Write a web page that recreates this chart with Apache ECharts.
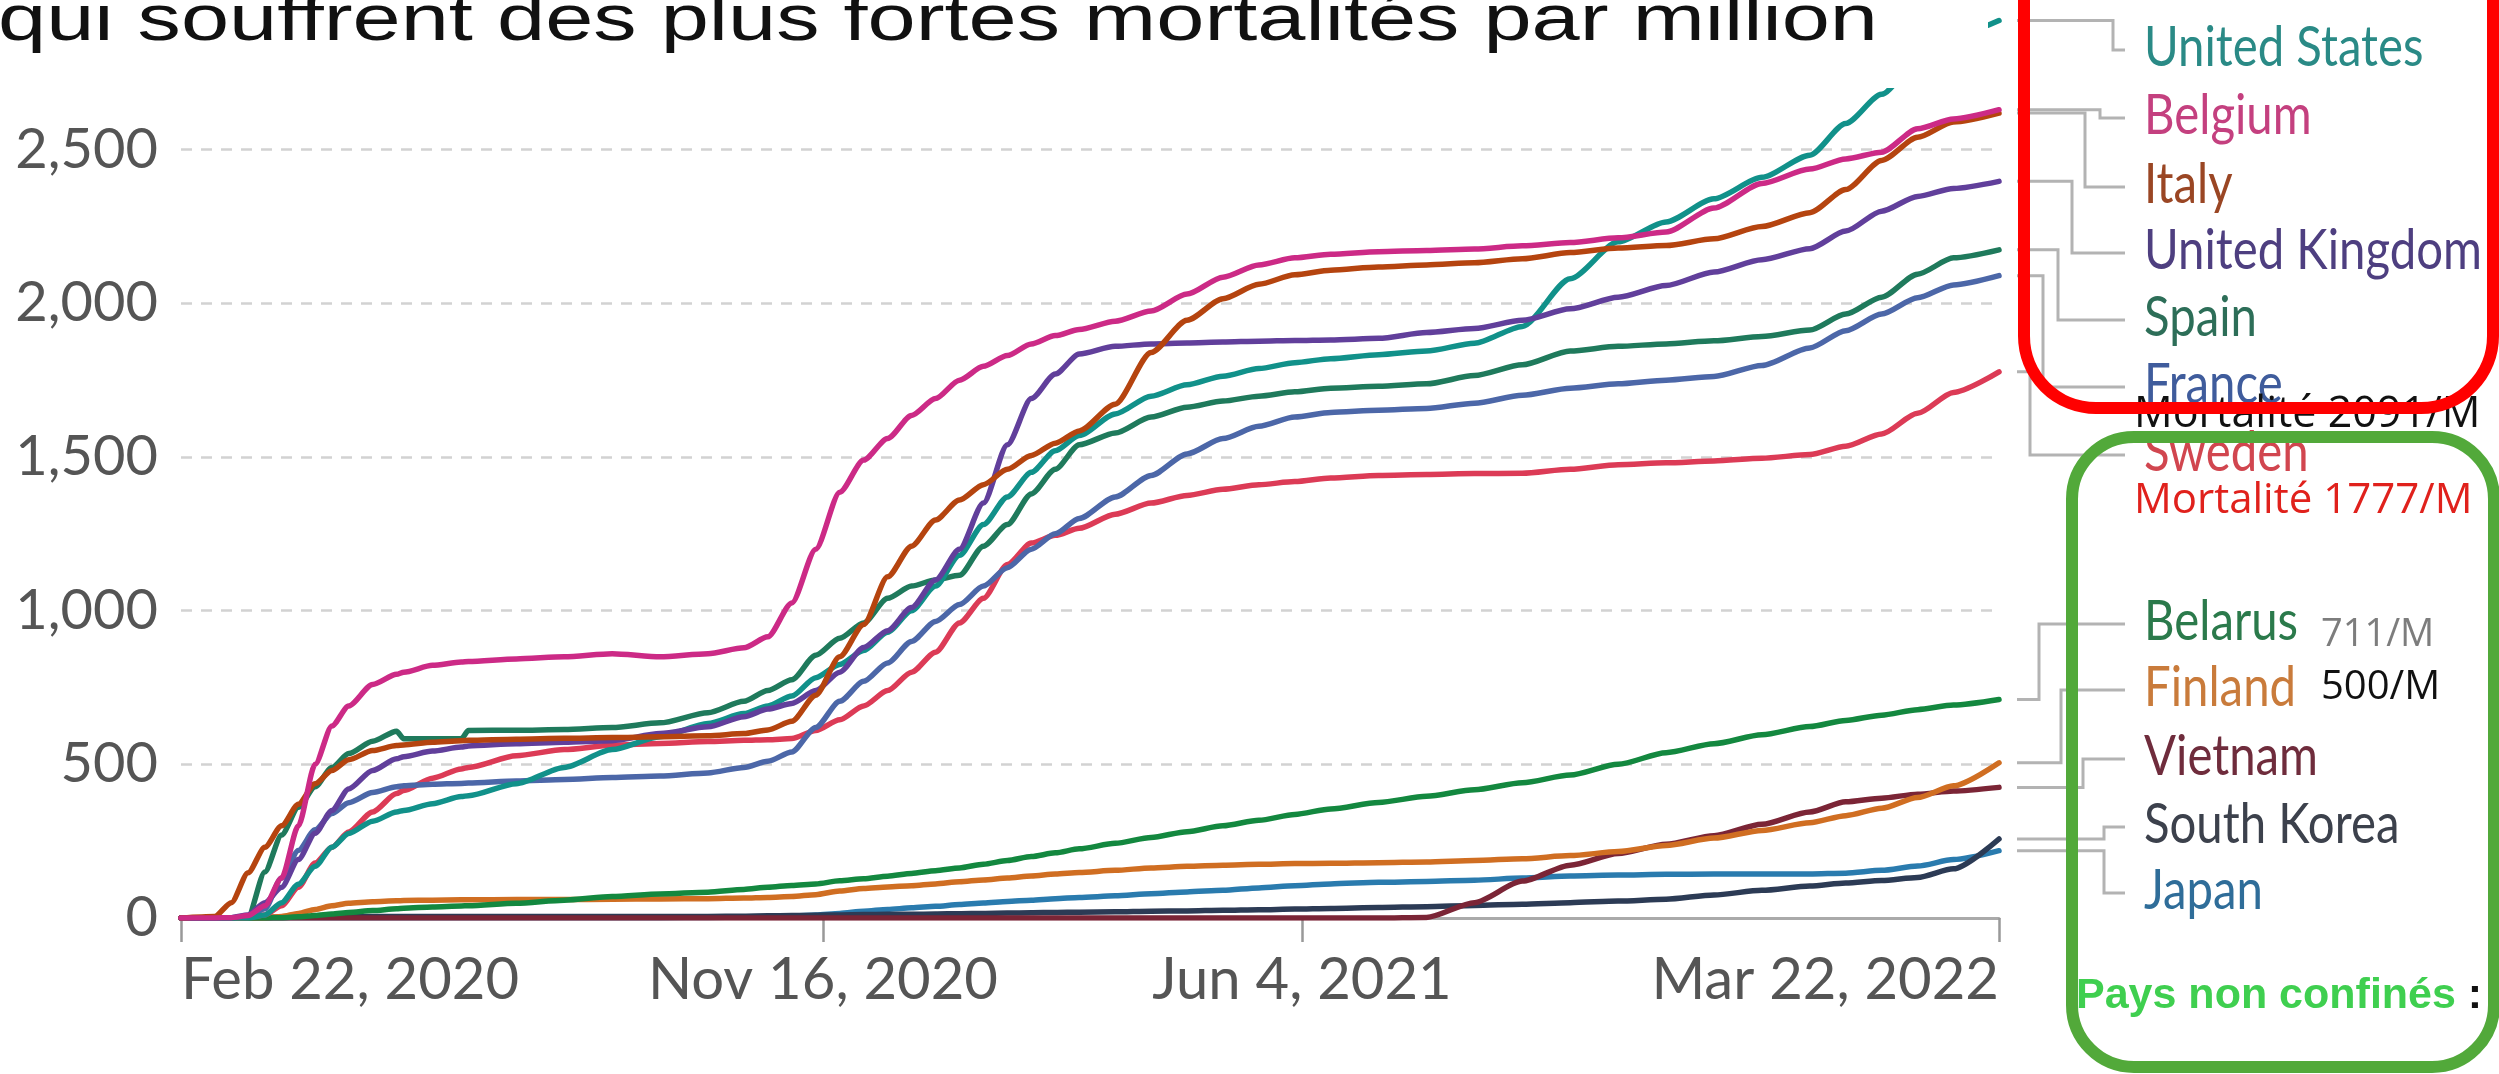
<!DOCTYPE html>
<html>
<head>
<meta charset="utf-8">
<script src="https://cdn.jsdelivr.net/npm/echarts@6/dist/echarts.min.js"></script>
<style>
html,body{margin:0;padding:0;background:#ffffff;}
#chart{width:2499px;height:1074px;}
</style>
</head>
<body>
<div id="chart"></div>
<script>
// ---------------- DATA ----------------
const dates = ['2020-02-22','2020-03-07','2020-03-14','2020-03-21','2020-03-28','2020-04-04','2020-04-11','2020-04-18','2020-04-25','2020-05-02',
'2020-05-12','2020-05-22','2020-05-25','2020-06-06','2020-06-18','2020-06-21','2020-07-11','2020-07-31','2020-08-20','2020-09-09',
'2020-09-29','2020-10-14','2020-10-24','2020-11-03','2020-11-13','2020-11-23','2020-12-03','2020-12-13','2020-12-23','2021-01-02',
'2021-01-12','2021-01-22','2021-02-01','2021-02-11','2021-02-21','2021-03-03','2021-03-18','2021-04-02','2021-04-17','2021-05-02',
'2021-05-17','2021-06-01','2021-06-16','2021-07-06','2021-07-26','2021-08-15','2021-09-04','2021-09-24','2021-10-14','2021-11-03',
'2021-11-23','2021-12-13','2022-01-02','2022-01-17','2022-02-01','2022-02-16','2022-03-03','2022-03-22'];

const unitedStates = [0,0,0,0,10,50,110,168,230,275, 315,345,350,372,395,398,437,490,548,590, 633,665,690,722,782,825,870,930,1000,1080, 1180,1280,1370,1450,1520,1570,1640,1698,1735,1763, 1788,1807,1820,1833,1845,1870,1925,2080,2200,2265, 2340,2410,2482,2585,2680,2790,2870,2920];
const belgium = [0,0,1,8,40,130,300,500,625,690, 760,793,800,822,833,835,843,850,860,850, 860,879,915,1025,1200,1385,1490,1560,1635,1690, 1750,1795,1830,1868,1895,1915,1942,1975,2030,2085, 2125,2148,2160,2168,2172,2177,2187,2198,2213,2232, 2310,2390,2437,2470,2492,2568,2600,2630];
const italy = [0,5,50,147,230,300,370,437,480,515, 545,561,563,572,577,578,582,585,587,590, 593,600,612,640,725,850,955,1110,1210,1295, 1360,1410,1460,1505,1545,1585,1672,1840,1945,2015, 2062,2093,2108,2118,2125,2132,2145,2165,2180,2188, 2210,2250,2295,2370,2465,2540,2590,2619];
const unitedKingdom = [0,0,1,10,50,100,190,276,350,420, 480,518,525,543,556,560,567,572,577,600, 622,655,680,698,740,800,880,935,1010,1100, 1200,1350,1540,1690,1770,1835,1860,1868,1871,1874, 1877,1879,1881,1886,1905,1918,1945,1982,2020,2058, 2102,2142,2178,2235,2300,2348,2374,2397];
const spain = [0,0,0,5,150,270,360,427,490,535, 575,608,583,583,583,610,611,613,620,635, 668,705,740,775,855,910,960,1040,1080,1100, 1115,1210,1280,1380,1460,1540,1578,1630,1662,1682, 1698,1712,1724,1730,1738,1765,1800,1845,1860,1868, 1878,1892,1913,1965,2020,2095,2148,2174];
const france = [0,0,1,5,30,130,220,287,340,375, 408,427,430,435,438,439,446,451,457,462, 472,490,510,540,620,705,770,830,900,965, 1020,1080,1140,1200,1250,1300,1370,1440,1510,1560, 1600,1630,1645,1652,1658,1675,1701,1724,1738,1750, 1762,1798,1855,1911,1965,2018,2060,2090];
const sweden = [0,0,0,2,10,40,100,179,230,280, 345,405,415,455,485,490,528,548,562,568, 574,578,580,584,610,645,690,740,800,865, 960,1040,1150,1220,1245,1268,1314,1350,1375,1395, 1410,1420,1432,1440,1443,1446,1447,1460,1475,1481, 1487,1496,1508,1535,1575,1642,1710,1777];
const belarus = [0,0,0,0,0,1,4,8,13,18, 24,30,32,36,39,40,48,58,70,78, 84,93,100,106,111,121,128,136,145,154, 163,175,187,200,212,225,243,262,281,300, 318,337,355,376,396,417,440,465,500,538, 567,596,623,643,660,678,693,711];
const finland = [0,0,0,0,1,5,15,28,40,48, 53,56,57,58,59,59,60,60,61,62, 63,65,67,70,76,88,96,101,105,111, 118,124,130,137,143,148,155,163,168,172, 175,177,178,180,182,187,193,203,216,236, 260,285,310,333,357,392,430,505];
const vietnam = [0,0,0,0,0,0,0,0,0,0, 0,0,0,0,0,0,0,0,0,0, 0,0,0,0,0,0,0,0,0,0, 0,0,0,0,0,0,0,0,0,0, 0,0,0,0,2,50,120,172,210,240, 268,305,345,378,390,403,413,425];
const southKorea = [0,0,0,1,2,3,4,4,5,5, 5,5,5,5,5,5,5,5,5,5, 5,6,7,8,9,10,11,12,12,13, 14,15,16,17,18,19,20,22,23,25, 27,29,31,34,37,41,45,50,55,61, 75,90,104,114,122,132,160,257];
const japan = [0,0,0,0,0,0,1,1,1,1, 1,1,1,1,1,1,1,1,1,1, 2,3,4,6,10,15,22,28,33,38, 44,49,54,58,63,67,72,79,85,90, 98,105,111,116,119,123,130,137,140,142, 143,143,143,146,155,169,190,219];

const countries = ['United States','Belgium','Italy','United Kingdom','Spain','France','Sweden','Belarus','Finland','Vietnam','South Korea','Japan'];
const seriesValues = [unitedStates, belgium, italy, unitedKingdom, spain, france, sweden, belarus, finland, vietnam, southKorea, japan];

const xTickDates = ['2020-02-22','2020-11-16','2021-06-04','2022-03-22'];
const xTickLabels = ['Feb 22, 2020','Nov 16, 2020','Jun 4, 2021','Mar 22, 2022'];
const yMin = 0, yMax = 3000, yStep = 500;

const titleText = 'qui souffrent des plus fortes mortalités par million';
const noteFrance = 'Mortalité 2091/M';
const noteSweden = 'Mortalité 1777/M';
const noteBelarus = '711/M';
const noteFinland = '500/M';
const noteGroup = 'Pays non confinés';

// ---------------- STYLE / LAYOUT ----------------
const lineColors = ['#11918a','#cc2a86','#b5440f','#613f9b','#1f7a5c','#4c67a8','#dc3b56','#13883f','#d06e22','#7b2536','#2c3b55','#2a7bae'];
const labelColors = ['#2a8a86','#c4407f','#9a4624','#4e3f80','#2d6e58','#3f5c9c','#d1464f','#2b7a4b','#c97b3b','#6f2c3c','#3c414c','#2f6d99'];
const labelBaseline = [65,133,202,268,335,402,470,639,705,774,842,908];
const elbowX = [2113,2100,2085,2072,2058,2043,2030,2039,2061,2083,2104,2104];
const drawOrder = [11,10,9,8,7,6,5,4,0,3,2,1];

function ts(s){ const p = s.split('-'); return Date.UTC(+p[0], +p[1]-1, +p[2]); }
const tickTs = xTickDates.map(ts);

const measureCtx = document.createElement('canvas').getContext('2d');
function textWidth(t, font){ measureCtx.font = font; return measureCtx.measureText(t).width; }

const chart = echarts.init(document.getElementById('chart'), null, {renderer:'canvas'});
const axisFont = "Lato, sans-serif";

const series = drawOrder.map(i => ({
  name: countries[i],
  type: 'line',
  data: dates.map((d, k) => [ts(d), seriesValues[i][k]]),
  showSymbol: false,
  symbol: 'none',
  smooth: 0.25,
  smoothMonotone: 'x',
  lineStyle: { color: lineColors[i], width: 5.5, cap: 'round', join: 'round' },
  itemStyle: { color: lineColors[i] },
  emphasis: { disabled: true },
  z: 3
}));

function xLabel(v){
  let best = 0;
  tickTs.forEach((t,i)=>{ if (Math.abs(t-v) < Math.abs(tickTs[best]-v)) best = i; });
  return xTickLabels[best];
}

chart.setOption({
  animation: false,
  backgroundColor: '#ffffff',
  grid: { left: 181, right: 500, top: -4, bottom: 156, containLabel: false, outerBoundsMode: 'none' },
  xAxis: {
    type: 'value',
    min: tickTs[0],
    max: tickTs[tickTs.length-1],
    axisLine: { show: true, lineStyle: { color: '#aaaaaa', width: 3 } },
    axisTick: { show: true, customValues: tickTs, length: 24, lineStyle: { color: '#999999', width: 2.5 } },
    axisLabel: {
      customValues: tickTs,
      formatter: xLabel,
      fontSize: 58, fontFamily: axisFont, color: '#555555', margin: 33,
      alignMinLabel: 'left', alignMaxLabel: 'right'
    },
    splitLine: { show: false }
  },
  yAxis: {
    type: 'value', min: yMin, max: yMax, interval: yStep,
    axisLine: { show: false }, axisTick: { show: false },
    axisLabel: {
      formatter: v => v >= yMax ? '' : v.toLocaleString('en-US'),
      fontSize: 56, fontFamily: axisFont, color: '#555555', margin: 23
    },
    splitLine: { show: true, lineStyle: { color: '#d2d2d2', width: 2.5, type: [11, 9] } }
  },
  series: series
});

// ---------- overlay: title patch, labels, connectors, boxes ----------
const graphics = [];
graphics.push({ type: 'rect', shape: { x: 0, y: 0, width: 1988, height: 88 }, style: { fill: '#ffffff' }, z: 50 });

const titleFont = '64px "Liberation Sans", Arial, sans-serif';
const titleScale = 1880 / textWidth(titleText, titleFont);
graphics.push({ type: 'text', x: -2, y: 45 - 0.347*64, scaleX: titleScale, z: 51,
  style: { text: titleText, font: titleFont, fill: '#111111', textAlign: 'left', textVerticalAlign: 'middle', align: 'left', verticalAlign: 'middle' } });

const labelFont = '56px Lato, sans-serif';
const labelScale = 338 / textWidth('United Kingdom', labelFont);

countries.forEach((name, i) => {
  const vals = seriesValues[i];
  const last = vals[vals.length-1];
  const p = chart.convertToPixel({ gridIndex: 0 }, [ts(dates[dates.length-1]), last]);
  const sx = p[0] + 18, sy = p[1];
  const ty = labelBaseline[i] - 15;
  graphics.push({ type: 'polyline', z: 40,
    shape: { points: [[sx, sy], [elbowX[i], sy], [elbowX[i], ty], [2125, ty]] },
    style: { stroke: '#b3b3b3', lineWidth: 3, fill: null } });
  graphics.push({ type: 'text', x: 2144, y: labelBaseline[i] - 0.3*56, scaleX: labelScale, z: 41,
    style: { text: name, font: labelFont, fill: labelColors[i], textAlign: 'left', textVerticalAlign: 'middle', align: 'left', verticalAlign: 'middle' } });
});

function note(text, x, baseline, size, color, weight, family) {
  const f = (weight || 'normal') + ' ' + size + 'px ' + (family || '"Open Sans", sans-serif');
  return { type: 'text', x: x, y: baseline - 0.33*size, z: 42,
    style: { text: text, font: f, fill: color, textAlign: 'left', textVerticalAlign: 'middle', align: 'left', verticalAlign: 'middle' } };
}
graphics.push(note(noteFrance, 2134, 429, 43, '#111111'));
graphics.push(note(noteSweden, 2134, 515, 42, '#e0211c'));
graphics.push(note(noteBelarus, 2321, 648, 38, '#7d7d7d'));
graphics.push(note(noteFinland, 2321, 701, 40, '#111111'));
const groupFont = 'bold 43px "Liberation Sans", Arial, sans-serif';
graphics.push(note(noteGroup, 2076, 1010, 43, '#3fcf4f', 'bold', '"Liberation Sans", Arial, sans-serif'));
graphics.push(note(' :', 2076 + textWidth(noteGroup, groupFont), 1010, 43, '#111111', 'bold', '"Liberation Sans", Arial, sans-serif'));

graphics.push({ type: 'rect', z: 60, shape: { x: 2024, y: -80, width: 469, height: 488, r: 72 },
  style: { fill: 'transparent', stroke: '#ff0000', lineWidth: 12 } });
graphics.push({ type: 'rect', z: 60, shape: { x: 2072, y: 437, width: 422, height: 630, r: 62 },
  style: { fill: 'transparent', stroke: '#52a93a', lineWidth: 12 } });

chart.setOption({ graphic: { elements: graphics } });
</script>
</body>
</html>
